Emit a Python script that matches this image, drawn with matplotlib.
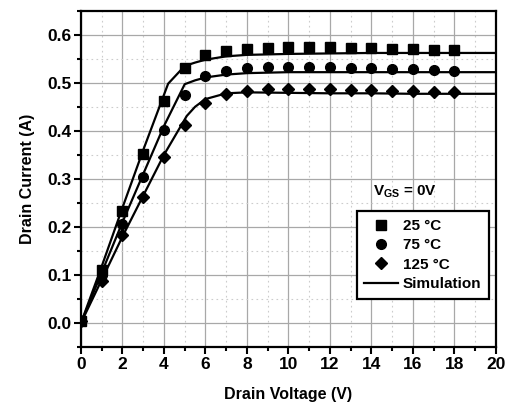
import matplotlib
matplotlib.use("Agg")
import matplotlib.pyplot as plt
from matplotlib.lines import Line2D
from matplotlib.ticker import MultipleLocator

plt.rcParams['font.family'] = ['Liberation Sans', 'DejaVu Sans']
plt.rcParams['font.weight'] = 'bold'
plt.rcParams['mathtext.fontset'] = 'custom'
plt.rcParams['mathtext.rm'] = 'Liberation Sans:bold'
plt.rcParams['mathtext.bf'] = 'Liberation Sans:bold'

# measured points
vd = [0, 1, 2, 3, 4, 5, 6, 7, 8, 9, 10, 11, 12, 13, 14, 15, 16, 17, 18]
id_25 = [0.005, 0.11, 0.234, 0.352, 0.463, 0.53, 0.557, 0.567, 0.571, 0.573, 0.574,
         0.574, 0.574, 0.573, 0.572, 0.571, 0.570, 0.569, 0.568]
id_75 = [0.005, 0.10, 0.205, 0.303, 0.402, 0.475, 0.513, 0.525, 0.530, 0.532, 0.532,
         0.532, 0.532, 0.531, 0.530, 0.529, 0.528, 0.527, 0.525]
id_125 = [0.005, 0.087, 0.183, 0.263, 0.346, 0.413, 0.458, 0.477, 0.483, 0.486, 0.486,
          0.486, 0.486, 0.485, 0.484, 0.483, 0.482, 0.481, 0.480]

# simulation curves
vd_sim = [0, 1, 2, 3, 4, 4.2, 5, 5.5, 6, 7, 8, 10, 12, 14, 16, 18, 20]
sim_25 = [0, 0.118, 0.24, 0.36, 0.475, 0.498, 0.535, 0.542, 0.548, 0.555, 0.558,
          0.560, 0.561, 0.562, 0.562, 0.562, 0.562]
vd_sim2 = [0, 1, 2, 3, 4, 5, 5.5, 6, 7, 8, 10, 12, 14, 16, 18, 20]
sim_75 = [0, 0.105, 0.21, 0.31, 0.41, 0.497, 0.505, 0.511, 0.517, 0.520, 0.522,
          0.522, 0.522, 0.522, 0.522, 0.522]
vd_sim3 = [0, 1, 2, 3, 4, 5.1, 5.5, 6, 7, 8, 10, 12, 14, 16, 18, 20]
sim_125 = [0, 0.09, 0.18, 0.265, 0.35, 0.431, 0.45, 0.466, 0.478, 0.480, 0.479,
           0.478, 0.478, 0.477, 0.477, 0.477]

fig = plt.figure(figsize=(5.11, 4.03), dpi=100)
ax = fig.add_axes([0.1585, 0.139, 0.812, 0.8345])

ax.plot(vd_sim, sim_25, color='black', lw=1.6)
ax.plot(vd_sim2, sim_75, color='black', lw=1.6)
ax.plot(vd_sim3, sim_125, color='black', lw=1.6)
ax.plot(vd, id_25, 's', color='black', ms=6.5, zorder=3)
ax.plot(vd, id_75, 'o', color='black', ms=7, zorder=3)
ax.plot(vd, id_125, 'D', color='black', ms=6, zorder=3)

ax.set_xlim(0, 20)
ax.set_ylim(-0.05, 0.65)
ax.xaxis.set_major_locator(MultipleLocator(2))
ax.xaxis.set_minor_locator(MultipleLocator(1))
ax.yaxis.set_major_locator(MultipleLocator(0.1))
ax.yaxis.set_minor_locator(MultipleLocator(0.05))
ax.set_yticks([0.0, 0.1, 0.2, 0.3, 0.4, 0.5, 0.6])
ax.set_yticklabels(['0.0', '0.1', '0.2', '0.3', '0.4', '0.5', '0.6'])

ax.grid(which='major', color='#a8a8a8', lw=0.9, ls='-')
ax.grid(which='minor', color='#cccccc', lw=0.8, ls=(0, (1.5, 3)))
ax.set_axisbelow(True)

for s in ax.spines.values():
    s.set_linewidth(1.6)
ax.tick_params(which='major', direction='out', length=5, width=1.5, labelsize=12.5, pad=2)
ax.tick_params(which='minor', direction='out', length=3, width=1.5)

ax.set_xlabel('Drain Voltage (V)', fontsize=11.5, fontweight='bold', labelpad=11)
ax.set_ylabel('Drain Current (A)', fontsize=11.5, fontweight='bold', labelpad=9)

handles = [
    Line2D([], [], ls='none', marker='s', color='black', ms=6.5),
    Line2D([], [], ls='none', marker='o', color='black', ms=7),
    Line2D([], [], ls='none', marker='D', color='black', ms=6),
    Line2D([], [], color='black', lw=1.6),
]
labels = ['25 \u00b0C', '75 \u00b0C', '125 \u00b0C', 'Simulation']
leg = ax.legend(handles, labels, loc='upper right', bbox_to_anchor=(0.983, 0.403),
                fontsize=11, fancybox=False, framealpha=1, edgecolor='black',
                borderpad=0.5, labelspacing=0.35, handlelength=2.2, handletextpad=0.3,
                borderaxespad=0)
leg.get_frame().set_linewidth(1.6)
for t in leg.get_texts():
    t.set_fontweight('bold')

ax.text(0.704, 0.462, r'$\mathbf{V_{GS}}$ = 0V', transform=ax.transAxes,
        fontsize=11, fontweight='bold', va='center', ha='left')

fig.savefig('out.png', dpi=100)
